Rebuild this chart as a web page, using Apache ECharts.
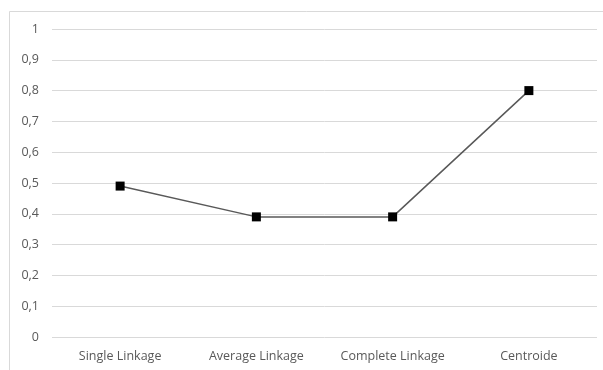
<!DOCTYPE html>
<html>
<head>
<meta charset="utf-8">
<style>
  html, body { margin: 0; padding: 0; background: #fff; }
  #chart { width: 603px; height: 370px; }
</style>
<script src="https://cdn.jsdelivr.net/npm/echarts@6/dist/echarts.min.js"></script>
</head>
<body>
<div id="chart"></div>
<script>
// Clustering methods and their scores
const categories = ['Single Linkage', 'Average Linkage', 'Complete Linkage', 'Centroide'];
const scores = [0.49, 0.39, 0.39, 0.8];
const yTicks = { min: 0, max: 1, step: 0.1 };

const chart = echarts.init(document.getElementById('chart'), null, { renderer: 'canvas' });

chart.setOption({
  animation: false,
  backgroundColor: '#fff',
  textStyle: { fontFamily: 'Open Sans, Liberation Sans, sans-serif' },
  graphic: [{
    type: 'rect',
    shape: { x: 9.5, y: 11.5, width: 620, height: 400 },
    style: { fill: 'none', stroke: '#d9d9d9', lineWidth: 1 },
    silent: true
  }],
  grid: { left: 52, right: 6, top: 29, bottom: 33, containLabel: false },
  xAxis: {
    type: 'category',
    data: categories,
    boundaryGap: true,
    axisLine: { show: false },
    axisTick: { show: false },
    axisLabel: { color: '#595959', fontSize: 12.5, margin: 13 }
  },
  yAxis: {
    type: 'value',
    min: yTicks.min,
    max: yTicks.max,
    interval: yTicks.step,
    axisLine: { show: false },
    axisTick: { show: false },
    splitLine: { lineStyle: { color: '#d9d9d9', width: 1 } },
    axisLabel: {
      color: '#595959',
      fontSize: 12.5,
      margin: 13,
      formatter: v => String(Math.round(v * 10) / 10).replace('.', ',')
    }
  },
  series: [{
    type: 'line',
    data: scores,
    symbol: 'rect',
    symbolSize: 9,
    itemStyle: { color: '#000' },
    lineStyle: { color: '#595959', width: 1.5 }
  }]
});
</script>
</body>
</html>
